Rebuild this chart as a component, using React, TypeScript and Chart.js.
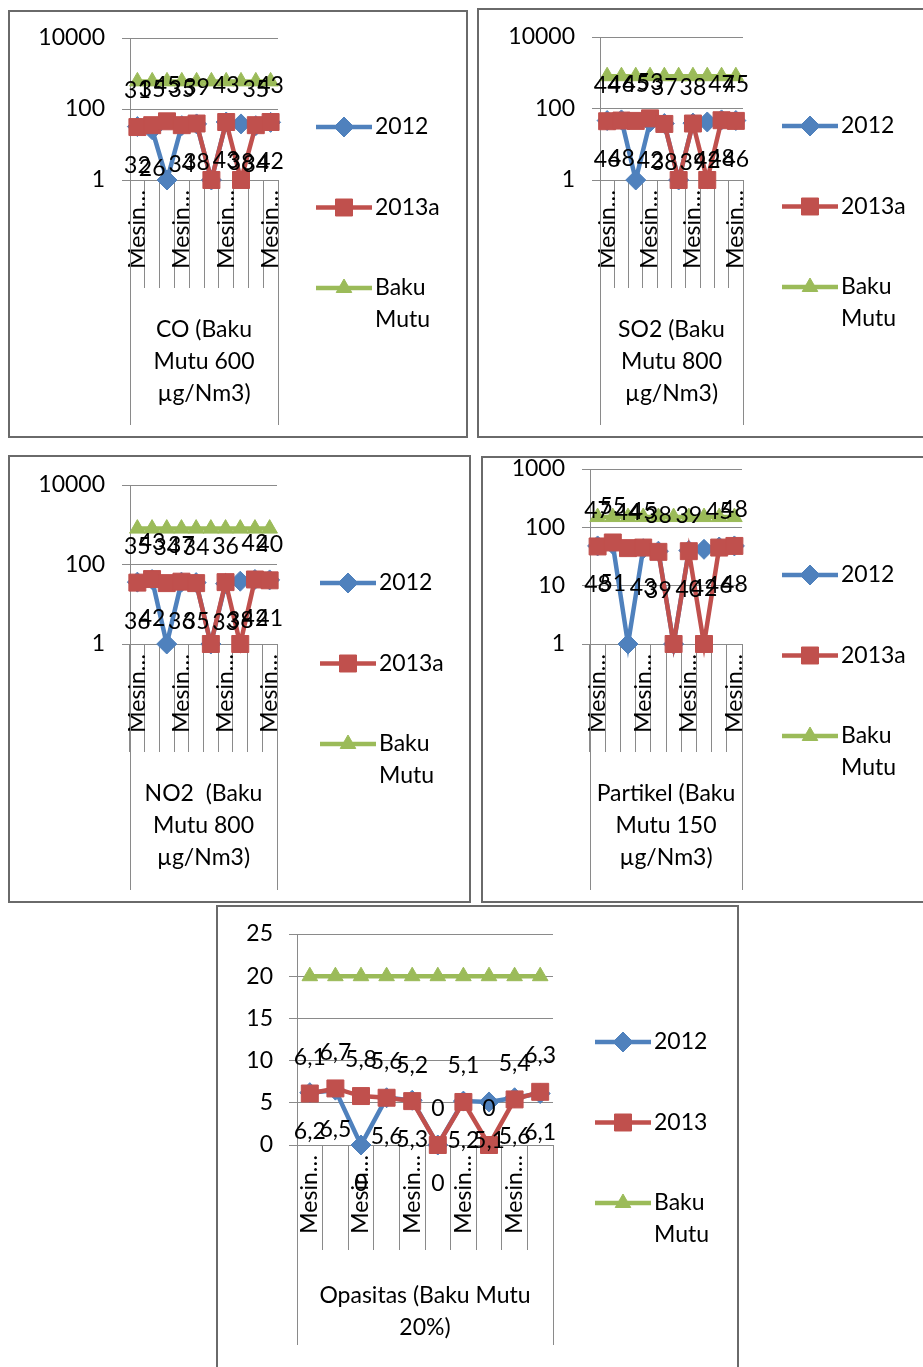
import React, { useEffect, useRef } from 'react';
import { Chart, registerables } from 'chart.js';

Chart.register(...registerables);
Chart.defaults.font.family = 'Lato, "Open Sans", sans-serif';

// ---------------- DATA ----------------
const categories = ['Mesin…', 'Mesin…', 'Mesin…', 'Mesin…', 'Mesin…', 'Mesin…', 'Mesin…', 'Mesin…', 'Mesin…', 'Mesin…'];
const seriesNames = ['2012', '2013a', 'Baku Mutu'];
const seriesNamesOpasitas = ['2012', '2013', 'Baku Mutu'];

const co2012 = [32, 26, 0, 34, 38, 0, 43, 38, 34, 42];
const co2013a = [31, 35, 45, 35, 39, 0, 43, 0, 35, 43];
const coBakuMutu = [600, 600, 600, 600, 600, 600, 600, 600, 600, 600];

const so2_2012 = [46, 48, 0, 42, 38, 0, 39, 42, 48, 46];
const so2_2013a = [44, 46, 45, 53, 37, 0, 38, 0, 47, 45];
const so2BakuMutu = [800, 800, 800, 800, 800, 800, 800, 800, 800, 800];

const no2_2012 = [36, 42, 0, 36, 35, 0, 33, 38, 42, 41];
const no2_2013a = [35, 43, 34, 37, 34, 0, 36, 0, 42, 40];
const no2BakuMutu = [800, 800, 800, 800, 800, 800, 800, 800, 800, 800];

const partikel2012 = [48, 51, 0, 43, 39, 0, 40, 42, 46, 48];
const partikel2013a = [47, 55, 44, 45, 38, 0, 39, 0, 45, 48];
const partikelBakuMutu = [150, 150, 150, 150, 150, 150, 150, 150, 150, 150];

const opasitas2012 = [6.2, 6.5, 0, 5.6, 5.3, 0, 5.2, 5.1, 5.6, 6.1];
const opasitas2013 = [6.1, 6.7, 5.8, 5.6, 5.2, 0, 5.1, 0, 5.4, 6.3];
const opasitasBakuMutu = [20, 20, 20, 20, 20, 20, 20, 20, 20, 20];

const ticksGas = [1, 100, 10000];
const ticksPartikel = [1, 10, 100, 1000];
const ticksOpasitas = [0, 5, 10, 15, 20, 25];

const titleCO = ['CO (Baku', 'Mutu 600', 'µg/Nm3)'];
const titleSO2 = ['SO2 (Baku', 'Mutu 800', 'µg/Nm3)'];
const titleNO2 = ['NO2  (Baku', 'Mutu 800', 'µg/Nm3)'];
const titlePartikel = ['Partikel (Baku', 'Mutu 150', 'µg/Nm3)'];
const titleOpasitas = ['Opasitas (Baku Mutu', '20%)'];

// ---------------- STYLE / LAYOUT ----------------
const BLUE = '#4F81BD';
const RED = '#C0504D';
const GREEN = '#9BBB59';
const GRID = '#8a8a8a';
const FONT_SIZE = 23;
const LINE_H = 32;

type Box = { x: number; y: number; w: number; h: number };
type Area = { l: number; t: number; r: number; b: number };
type PanelCfg = {
  box: Box;
  area: Area;
  log: boolean;
  yMin: number;
  yMax: number;
  yTicks: number[];
  yPad: number;
  series: number[][];
  names: string[];
  title: string[];
  titleY: number;
  labelEvery: number;
  tickLen: number;
  outerBottom: number;
  legend: { x: number; y: number };
};

const panels: PanelCfg[] = [
  {
    box: { x: 8, y: 10, w: 460, h: 428 }, area: { l: 130, t: 38, r: 278, b: 180 },
    log: true, yMin: 1, yMax: 10000, yTicks: ticksGas, yPad: 17,
    series: [co2012, co2013a, coBakuMutu], names: seriesNames,
    title: titleCO, titleY: 330, labelEvery: 3, tickLen: 108, outerBottom: 425,
    legend: { x: 316, y: 127 },
  },
  {
    box: { x: 477, y: 8, w: 452, h: 430 }, area: { l: 600, t: 37, r: 743, b: 180 },
    log: true, yMin: 1, yMax: 10000, yTicks: ticksGas, yPad: 17,
    series: [so2_2012, so2_2013a, so2BakuMutu], names: seriesNames,
    title: titleSO2, titleY: 330, labelEvery: 3, tickLen: 108, outerBottom: 425,
    legend: { x: 782, y: 126 },
  },
  {
    box: { x: 8, y: 455, w: 463, h: 448 }, area: { l: 130, t: 485, r: 277, b: 644 },
    log: true, yMin: 1, yMax: 10000, yTicks: ticksGas, yPad: 17,
    series: [no2_2012, no2_2013a, no2BakuMutu], names: seriesNames,
    title: titleNO2, titleY: 794, labelEvery: 3, tickLen: 108, outerBottom: 890,
    legend: { x: 320, y: 583 },
  },
  {
    box: { x: 481, y: 456, w: 448, h: 447 }, area: { l: 590, t: 469, r: 742, b: 644 },
    log: true, yMin: 1, yMax: 1000, yTicks: ticksPartikel, yPad: 17,
    series: [partikel2012, partikel2013a, partikelBakuMutu], names: seriesNames,
    title: titlePartikel, titleY: 794, labelEvery: 3, tickLen: 108, outerBottom: 890,
    legend: { x: 782, y: 575 },
  },
  {
    box: { x: 216, y: 905, w: 523, h: 470 }, area: { l: 297, t: 934, r: 553, b: 1145 },
    log: false, yMin: 0, yMax: 25, yTicks: ticksOpasitas, yPad: 16,
    series: [opasitas2012, opasitas2013, opasitasBakuMutu], names: seriesNamesOpasitas,
    title: titleOpasitas, titleY: 1296, labelEvery: 2, tickLen: 105, outerBottom: 1345,
    legend: { x: 595, y: 1042 },
  },
];

const pointStyles = ['rectRot', 'rect', 'triangle'];
const pointRadii = [10, 12, 9];
const colors = [BLUE, RED, GREEN];

function fmt(v: number): string {
  return String(v).replace('.', ',');
}

function drawMarker(ctx: CanvasRenderingContext2D, style: string, x: number, y: number, r: number, color: string) {
  ctx.save();
  ctx.fillStyle = color;
  ctx.strokeStyle = color;
  ctx.lineWidth = 1;
  ctx.beginPath();
  if (style === 'rect') {
    const s = Math.SQRT1_2 * r;
    ctx.rect(x - s, y - s, 2 * s, 2 * s);
  } else if (style === 'rectRot') {
    ctx.moveTo(x, y - r);
    ctx.lineTo(x + r, y);
    ctx.lineTo(x, y + r);
    ctx.lineTo(x - r, y);
    ctx.closePath();
  } else {
    let rad = 0;
    ctx.moveTo(x + Math.sin(rad) * r, y - Math.cos(rad) * r);
    rad += (2 * Math.PI) / 3;
    ctx.lineTo(x + Math.sin(rad) * r, y - Math.cos(rad) * r);
    rad += (2 * Math.PI) / 3;
    ctx.lineTo(x + Math.sin(rad) * r, y - Math.cos(rad) * r);
    ctx.closePath();
  }
  ctx.fill();
  ctx.stroke();
  ctx.restore();
}

function Panel({ cfg }: { cfg: PanelCfg }) {
  const ref = useRef<HTMLCanvasElement | null>(null);

  useEffect(() => {
    const canvas = ref.current;
    if (!canvas) return;
    const { box, area } = cfg;
    const wy = area.l - box.x;
    const top = area.t - box.y;
    const right = box.x + box.w - area.r;
    const hx = box.y + box.h - area.b;
    const lastTitleY = cfg.titleY + LINE_H * (cfg.title.length - 1);
    const titlePadBottom = box.y + box.h - lastTitleY - LINE_H / 2;

    const datasets = cfg.series.map((vals, i) => ({
      label: cfg.names[i],
      data: cfg.log ? vals.map((v) => (v > 0 ? v : cfg.yMin)) : vals,
      borderColor: colors[i],
      backgroundColor: colors[i],
      borderWidth: 4.5,
      pointStyle: pointStyles[i],
      pointRadius: pointRadii[i],
      pointBackgroundColor: colors[i],
      pointBorderColor: colors[i],
      pointBorderWidth: 1,
      tension: 0,
      clip: false as any,
      order: 3 - i,
    }));

    const outerLines = {
      id: 'outerLines',
      afterDraw(chart: any) {
        const ctx = chart.ctx as CanvasRenderingContext2D;
        const xs = chart.scales.x;
        ctx.save();
        ctx.strokeStyle = GRID;
        ctx.lineWidth = 1;
        [xs.left, xs.right].forEach((px: number) => {
          const x = Math.round(px) + 0.5;
          ctx.beginPath();
          ctx.moveTo(x, chart.chartArea.bottom);
          ctx.lineTo(x, cfg.outerBottom - box.y);
          ctx.stroke();
        });
        ctx.restore();
      },
    };

    const dataLabels = {
      id: 'dataLabels',
      afterDatasetsDraw(chart: any) {
        const ctx = chart.ctx as CanvasRenderingContext2D;
        ctx.save();
        ctx.fillStyle = '#000';
        ctx.font = `${FONT_SIZE}px Lato, "Open Sans", sans-serif`;
        ctx.textAlign = 'center';
        ctx.textBaseline = 'middle';
        [0, 1].forEach((di) => {
          const meta = chart.getDatasetMeta(di);
          const raw = cfg.series[di];
          meta.data.forEach((pt: any, i: number) => {
            const v = raw[i];
            if (cfg.log && v === 0) return;
            const dy = di === 1 ? -36 : 39;
            ctx.fillText(fmt(v), pt.x, pt.y + dy);
          });
        });
        ctx.restore();
      },
    };

    const legend = {
      id: 'customLegend',
      afterDraw(chart: any) {
        const ctx = chart.ctx as CanvasRenderingContext2D;
        const lx = cfg.legend.x - box.x;
        const ly = cfg.legend.y - box.y;
        chart.data.datasets.forEach((ds: any, i: number) => {
          const y = ly + i * 80.5;
          ctx.save();
          ctx.strokeStyle = ds.borderColor;
          ctx.lineWidth = ds.borderWidth;
          ctx.beginPath();
          ctx.moveTo(lx, y);
          ctx.lineTo(lx + 56, y);
          ctx.stroke();
          ctx.restore();
          drawMarker(ctx, ds.pointStyle, lx + 28, y, ds.pointRadius, ds.borderColor);
          ctx.save();
          ctx.fillStyle = '#000';
          ctx.font = `${FONT_SIZE}px Lato, "Open Sans", sans-serif`;
          ctx.textAlign = 'left';
          ctx.textBaseline = 'middle';
          String(ds.label)
            .split(' ')
            .forEach((line: string, j: number) => ctx.fillText(line, lx + 59, y + j * LINE_H));
          ctx.restore();
        });
      },
    };

    const chart = new Chart(canvas, {
      type: 'line',
      data: { labels: categories, datasets: datasets as any },
      options: {
        responsive: false,
        animation: false,
        layout: { padding: { left: 0, top, right, bottom: 0 } },
        plugins: {
          legend: { display: false },
          tooltip: { enabled: false },
          title: { display: false },
        },
        scales: {
          x: {
            type: 'category',
            offset: true,
            grid: {
              offset: true,
              drawOnChartArea: false,
              drawTicks: true,
              tickLength: cfg.tickLen,
              color: GRID,
              lineWidth: 1,
            },
            border: { display: true, color: GRID, width: 1 },
            ticks: {
              autoSkip: false,
              maxRotation: 90,
              minRotation: 90,
              padding: 10 - cfg.tickLen,
              color: '#000',
              font: { size: FONT_SIZE },
              callback: (_v: any, i: number) => (i % cfg.labelEvery === 0 ? categories[i] : ''),
            },
            title: {
              display: true,
              text: cfg.title,
              color: '#000',
              font: { size: FONT_SIZE, lineHeight: `${LINE_H}px` },
              padding: { top: 0, bottom: titlePadBottom },
            },
            afterFit: (s: any) => {
              s.height = hx;
              s.paddingLeft = 0;
              s.paddingRight = 0;
            },
          } as any,
          y: {
            type: cfg.log ? 'logarithmic' : 'linear',
            min: cfg.yMin,
            max: cfg.yMax,
            afterBuildTicks: (s: any) => {
              s.ticks = cfg.yTicks.map((v) => ({ value: v }));
            },
            grid: { color: GRID, drawTicks: true, tickLength: 8, lineWidth: 1 },
            border: { display: true, color: GRID, width: 1 },
            ticks: {
              autoSkip: false,
              padding: cfg.yPad,
              color: '#000',
              font: { size: FONT_SIZE },
              callback: (v: any) => String(v),
            },
            afterFit: (s: any) => {
              s.width = wy;
              s.paddingTop = 0;
              s.paddingBottom = 0;
            },
          } as any,
        },
      },
      plugins: [outerLines, dataLabels, legend],
    });
    return () => chart.destroy();
  }, [cfg]);

  const { box } = cfg;
  return (
    <>
      <canvas
        ref={ref}
        width={box.w}
        height={box.h}
        style={{ position: 'absolute', left: box.x, top: box.y, width: box.w, height: box.h }}
      />
      <div
        style={{
          position: 'absolute',
          left: box.x,
          top: box.y,
          width: box.w,
          height: box.h,
          border: '2px solid #6a6a6a',
          boxSizing: 'border-box',
          pointerEvents: 'none',
        }}
      />
    </>
  );
}

export default function App() {
  return (
    <div
      style={{
        position: 'absolute',
        left: 0,
        top: 0,
        width: 923,
        height: 1367,
        overflow: 'hidden',
        background: '#fff',
      }}
    >
      {panels.map((p, i) => (
        <Panel key={i} cfg={p} />
      ))}
    </div>
  );
}
